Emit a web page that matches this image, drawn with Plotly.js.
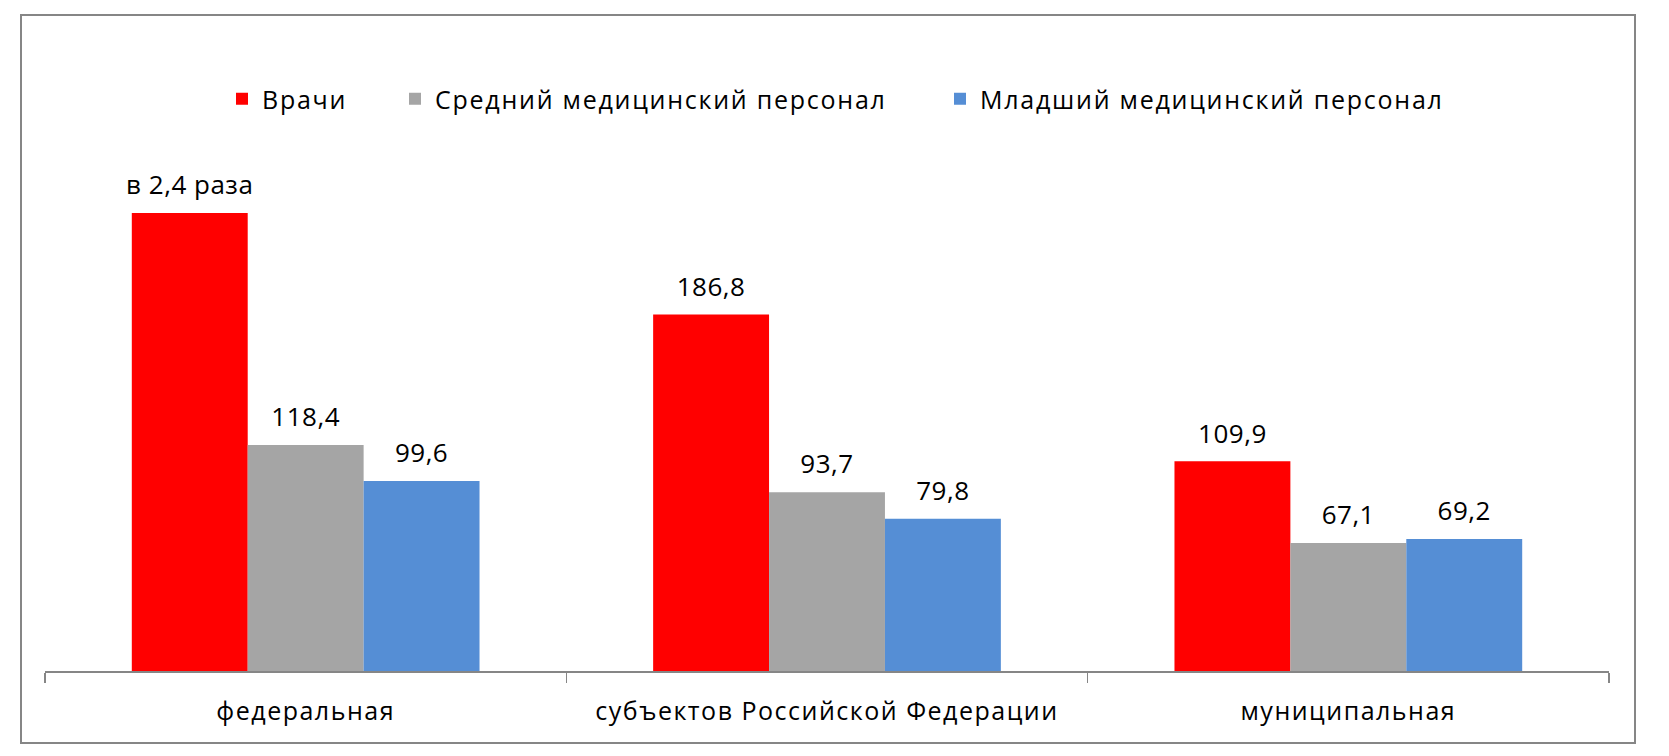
<!DOCTYPE html>
<html>
<head>
<meta charset="utf-8">
<script src="https://cdn.plot.ly/plotly-3.0.1.min.js"></script>
<style>
  html, body { margin: 0; padding: 0; background: #fff; }
  #chart { width: 1669px; height: 756px; }
  #chart .infolayer g[class^="legend"] text { letter-spacing: 1.75px !important; }
  #chart .legendpoints path { stroke-width: 3px !important; }
  #chart .xtick text { letter-spacing: 1.5px; }
  #chart .textpoint text { letter-spacing: 0.5px; }
</style>
</head>
<body>
<div id="chart"></div>
<script>
// Categories (form of ownership)
const categories = ["федеральная", "субъектов Российской Федерации", "муниципальная"];

// Series names
const seriesNames = ["Врачи", "Средний медицинский персонал", "Младший медицинский персонал"];

// Values
const doctors = [240.0, 186.8, 109.9];
const nurses = [118.4, 93.7, 67.1];
const juniors = [99.6, 79.8, 69.2];

// Labels shown above bars
const doctorsLabels = ["в 2,4 раза", "186,8", "109,9"];

const colors = ["#FF0000", "#A5A5A5", "#558ED5"];

function fmt(arr) { return arr.map(v => v.toFixed(1).replace('.', ',')); }

const FONT = "Open Sans, Noto Sans, sans-serif";
const labelFont = { family: FONT, size: 26, color: "#000" };

const seriesValues = [doctors, nurses, juniors];
const seriesLabels = [doctorsLabels, fmt(nurses), fmt(juniors)];
const legendIds = ["legend", "legend2", "legend3"];

const barTraces = seriesValues.map((vals, i) => ({
  type: "bar",
  name: seriesNames[i],
  x: categories,
  y: vals,
  marker: { color: colors[i], line: { width: 0, color: colors[i] } },
  hoverinfo: "skip",
  legend: legendIds[i]
}));

// value labels, grouped the same way as the bars
const labelTraces = seriesValues.map((vals, i) => ({
  type: "scatter",
  mode: "markers+text",
  x: categories,
  y: vals,
  text: seriesLabels[i],
  textposition: "top center",
  textfont: labelFont,
  cliponaxis: false,
  marker: { size: 18, opacity: 0, color: colors[i] },
  hoverinfo: "skip",
  showlegend: false
}));

// plot area geometry
const W = 1669, H = 756;
const L = 45, R = 60, T = 194, B = 85;
const pw = W - L - R, ph = H - T - B;
const px = x => (x - L) / pw;
const py = y => (H - B - y) / ph;

const legendBase = {
  orientation: "h",
  yanchor: "middle",
  xanchor: "left",
  y: py(99),
  entrywidth: 540,
  entrywidthmode: "pixels",
  font: { family: FONT, size: 25, color: "#000" },
  bgcolor: "rgba(0,0,0,0)",
  borderwidth: 0
};

const layout = {
  width: W,
  height: H,
  margin: { l: L, r: R, t: T, b: B, pad: 0 },
  paper_bgcolor: "#fff",
  plot_bgcolor: "#fff",
  barmode: "group",
  bargap: 0.333,
  bargroupgap: 0,
  scattermode: "group",
  scattergap: 0.333,
  showlegend: true,
  legend: Object.assign({}, legendBase, { x: px(222), entrywidth: 150 }),
  legend2: Object.assign({}, legendBase, { x: px(395) }),
  legend3: Object.assign({}, legendBase, { x: px(940) }),
  xaxis: {
    type: "category",
    range: [-0.5, 2.5],
    showline: true,
    linecolor: "#868686",
    linewidth: 1.5,
    ticks: "outside",
    tickson: "boundaries",
    ticklen: 10,
    tickwidth: 1.5,
    tickcolor: "#868686",
    showgrid: false,
    zeroline: false,
    tickfont: { family: FONT, size: 25, color: "#000" },
    ticklabelstandoff: 17
  },
  yaxis: {
    range: [0, 250],
    visible: false,
    showgrid: false,
    zeroline: false,
    fixedrange: true
  },
  shapes: [{
    type: "rect",
    xref: "paper", yref: "paper",
    x0: px(21), x1: px(1635), y0: py(743), y1: py(15),
    line: { color: "#868686", width: 2 },
    fillcolor: "rgba(0,0,0,0)",
    layer: "below"
  }]
};

Plotly.newPlot("chart", barTraces.concat(labelTraces), layout, { staticPlot: true, displayModeBar: false });
</script>
</body>
</html>
